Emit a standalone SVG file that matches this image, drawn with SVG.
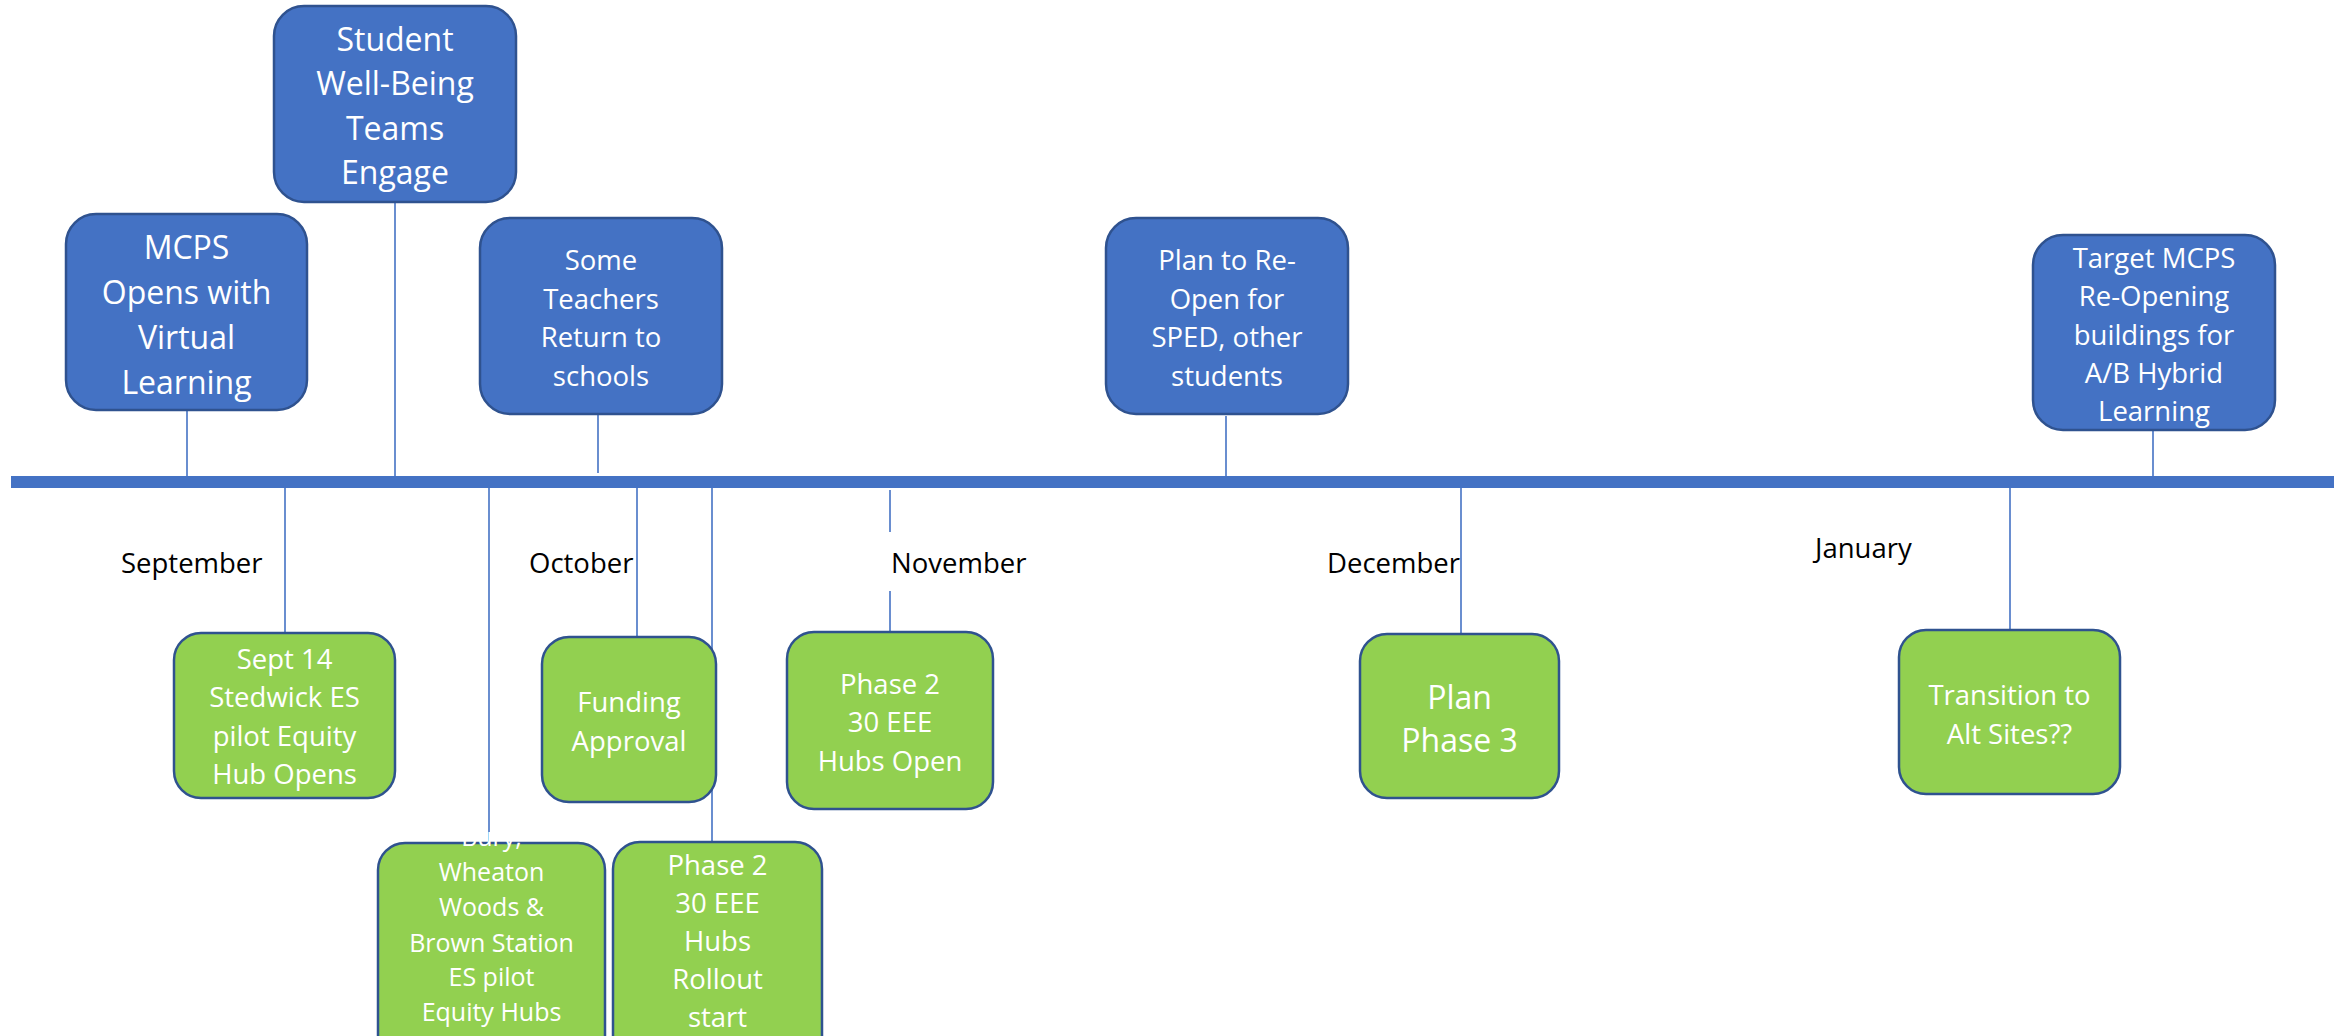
<svg xmlns="http://www.w3.org/2000/svg" width="2349" height="1036" viewBox="0 0 2349 1036">
<style>
.bg{fill:#ffffff}
.bar{fill:#4472C4}
.conn line{stroke:#4472C4;stroke-width:1.6;fill:none}
.blue rect{fill:#4472C4;stroke:#2F528F;stroke-width:2.5}
.green rect{fill:#92D050;stroke:#2F528F;stroke-width:2.5}
.t{font-family:"Open Sans","Noto Sans","Liberation Sans",sans-serif;fill:#ffffff;text-anchor:middle}
.m{font-family:"Open Sans","Noto Sans","Liberation Sans",sans-serif;fill:#000000;font-size:27.5px}
.f32{font-size:32px}
.f27{font-size:27.5px}
.f25{font-size:25px}
</style>
<rect class="bg" x="0" y="0" width="2349" height="1036"/>
<rect id="timeline" class="bar" x="11" y="476" width="2323" height="12"/>
<g id="connectors" class="conn">
<line x1="187" y1="410" x2="187" y2="476"/>
<line x1="395" y1="202" x2="395" y2="476"/>
<line x1="598" y1="414" x2="598" y2="473"/>
<line x1="1226" y1="416" x2="1226" y2="476"/>
<line x1="2153" y1="430" x2="2153" y2="476"/>
<line x1="285" y1="488" x2="285" y2="637"/>
<line x1="489" y1="488" x2="489" y2="843"/>
<line x1="637" y1="488" x2="637" y2="637"/>
<line x1="712" y1="488" x2="712" y2="842"/>
<line x1="890" y1="490" x2="890" y2="532"/>
<line x1="890" y1="591" x2="890" y2="632"/>
<line x1="1461" y1="488" x2="1461" y2="634"/>
<line x1="2010" y1="488" x2="2010" y2="637"/>
</g>
<g id="months" class="m">
<text x="121" y="573">September</text>
<text x="529" y="573">October</text>
<text x="891" y="573">November</text>
<text x="1327" y="573">December</text>
<text x="1815" y="558">January</text>
</g>
<g id="node-mcps-opens" class="blue">
<rect x="66" y="214" width="241" height="196" rx="30"/>
<text class="t f32" x="186.5"><tspan x="186.5" y="258.5">MCPS</tspan><tspan x="186.5" y="303.5">Opens with</tspan><tspan x="186.5" y="348.5">Virtual</tspan><tspan x="186.5" y="393.5">Learning</tspan></text>
</g>
<g id="node-wellbeing" class="blue">
<rect x="274" y="6" width="242" height="196" rx="30"/>
<text class="t f32"><tspan x="395" y="50.5">Student</tspan><tspan x="395" y="95">Well-Being</tspan><tspan x="395" y="139.5">Teams</tspan><tspan x="395" y="184">Engage</tspan></text>
</g>
<g id="node-teachers" class="blue">
<rect x="480" y="218" width="242" height="196" rx="30"/>
<text class="t f27"><tspan x="601" y="270">Some</tspan><tspan x="601" y="308.5">Teachers</tspan><tspan x="601" y="347">Return to</tspan><tspan x="601" y="385.5">schools</tspan></text>
</g>
<g id="node-plan-reopen" class="blue">
<rect x="1106" y="218" width="242" height="196" rx="30"/>
<text class="t f27"><tspan x="1227" y="270">Plan to Re-</tspan><tspan x="1227" y="308.5">Open for</tspan><tspan x="1227" y="347">SPED, other</tspan><tspan x="1227" y="385.5">students</tspan></text>
</g>
<g id="node-target" class="blue">
<rect x="2033" y="235" width="242" height="195" rx="30"/>
<text class="t f27"><tspan x="2154" y="268">Target MCPS</tspan><tspan x="2154" y="306">Re-Opening</tspan><tspan x="2154" y="344.5">buildings for</tspan><tspan x="2154" y="383">A/B Hybrid</tspan><tspan x="2154" y="421">Learning</tspan></text>
</g>
<g id="node-sept14" class="green">
<rect x="174" y="633" width="221" height="165" rx="27"/>
<text class="t f27"><tspan x="284.5" y="668.5">Sept 14</tspan><tspan x="284.5" y="707">Stedwick ES</tspan><tspan x="284.5" y="745.5">pilot Equity</tspan><tspan x="284.5" y="784">Hub Opens</tspan></text>
</g>
<g id="node-bury" class="green">
<rect x="378" y="843" width="227" height="240" rx="27"/>
<text class="t f25"><tspan x="491.5" y="846">Bury,</tspan><tspan x="491.5" y="881">Wheaton</tspan><tspan x="491.5" y="916">Woods &amp;</tspan><tspan x="491.5" y="951.5">Brown Station</tspan><tspan x="491.5" y="986">ES pilot</tspan><tspan x="491.5" y="1021">Equity Hubs</tspan></text>
</g>
<g id="node-funding" class="green">
<rect x="542" y="637" width="174" height="165" rx="27"/>
<text class="t f27"><tspan x="629" y="712">Funding</tspan><tspan x="629" y="751">Approval</tspan></text>
</g>
<g id="node-rollout" class="green">
<rect x="613" y="842" width="209" height="240" rx="27"/>
<text class="t f27"><tspan x="717.5" y="875">Phase 2</tspan><tspan x="717.5" y="913">30 EEE</tspan><tspan x="717.5" y="950.5">Hubs</tspan><tspan x="717.5" y="988.5">Rollout</tspan><tspan x="717.5" y="1027">start</tspan></text>
</g>
<g id="node-hubs-open" class="green">
<rect x="787" y="632" width="206" height="177" rx="27"/>
<text class="t f27"><tspan x="890" y="693.5">Phase 2</tspan><tspan x="890" y="732">30 EEE</tspan><tspan x="890" y="770.5">Hubs Open</tspan></text>
</g>
<g id="node-phase3" class="green">
<rect x="1360" y="634" width="199" height="164" rx="27"/>
<text class="t f32"><tspan x="1459.5" y="708.5">Plan</tspan><tspan x="1459.5" y="751.5">Phase 3</tspan></text>
</g>
<g id="node-transition" class="green">
<rect x="1899" y="630" width="221" height="164" rx="27"/>
<text class="t f27"><tspan x="2009.5" y="705">Transition to</tspan><tspan x="2009.5" y="744">Alt Sites??</tspan></text>
</g>
</svg>
